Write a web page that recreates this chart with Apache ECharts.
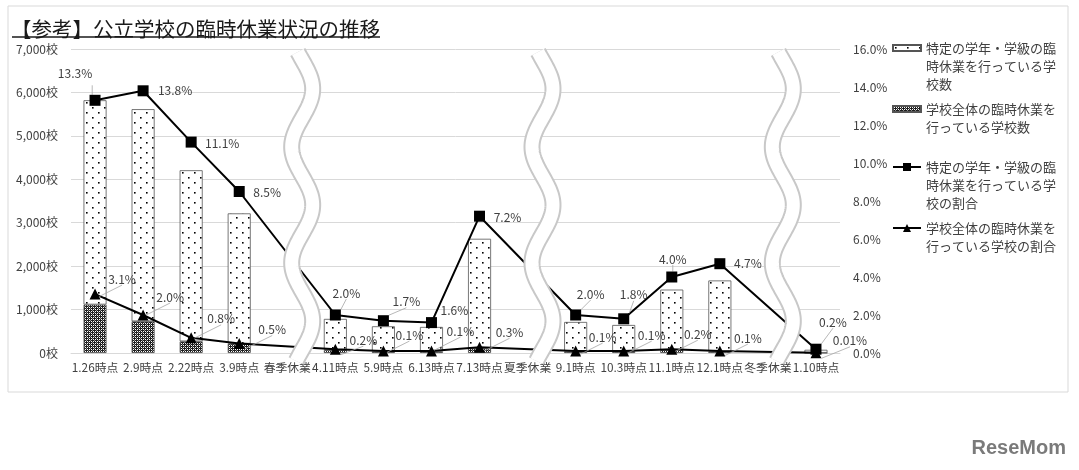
<!DOCTYPE html>
<html>
<head>
<meta charset="utf-8">
<script src="https://cdn.jsdelivr.net/npm/echarts@6/dist/echarts.min.js"></script>
<style>
html,body{margin:0;padding:0;background:#fff;}
#chart{width:1079px;height:470px;}
</style>
</head>
<body>
<div id="chart"></div>
<script>
// ---- data ----
const categories = ['1.26時点','2.9時点','2.22時点','3.9時点','春季休業','4.11時点','5.9時点','6.13時点','7.13時点','夏季休業','9.1時点','10.3時点','11.1時点','12.1時点','冬季休業','1.10時点'];
const breakCategories = ['春季休業','夏季休業','冬季休業'];
const specificCount = [4705, 4885, 3940, 3000, null, 715, 580, 565, 2525, null, 680, 610, 1390, 1635, null, 70];
const wholeCount    = [1115, 730, 268, 215, null, 70, 35, 35, 105, null, 35, 35, 70, 35, null, 4];
const specificPct   = [13.3, 13.8, 11.1, 8.5, null, 2.0, 1.7, 1.6, 7.2, null, 2.0, 1.8, 4.0, 4.7, null, 0.2];
const wholePct      = [3.1, 2.0, 0.8, 0.5, null, 0.2, 0.1, 0.1, 0.3, null, 0.1, 0.1, 0.2, 0.1, null, 0.01];
const leftAxisTicks = {min: 0, max: 7000, interval: 1000};
const rightAxisTicks = {min: 0, max: 16, interval: 2};

const nSpecific = '特定の学年・学級の臨時休業を行っている学校数';
const nWhole = '学校全体の臨時休業を行っている学校数';
const pSpecific = '特定の学年・学級の臨時休業を行っている学校の割合';
const pWhole = '学校全体の臨時休業を行っている学校の割合';

// ---- label offsets / leader lines (style) ----
const specificLabelOffset = [[-20,-27],[32,0],[31,1],[28,1],null,[11,-22],[23,-19],[23,-12],[28,1],null,[15,-21],[10,-24],[1,-18],[28,0],null,[17,-27]];
const specificLeader = [true,false,false,false,false,true,true,false,false,false,true,true,true,false,false,true];
const wholeLabelOffset = [[27,-15],[27,-18],[30,-19],[33,-14],null,[28,-9],[26,-16],[29,-20],[30,-15],null,[27,-14],[28,-16],[26,-15],[28,-13],null,[34,-12]];
const wholeLeader = [true,true,true,true,false,true,true,true,true,false,true,true,true,true,false,true];

const FONT = "'Noto Sans CJK JP','Noto Sans',sans-serif";
const TXT = '#404040';

function makeDotPattern(){
  const c = document.createElement('canvas'); c.width = 12; c.height = 10;
  const g = c.getContext('2d');
  g.fillStyle = '#fff'; g.fillRect(0,0,12,10);
  g.fillStyle = '#000';
  g.fillRect(2,2,1.6,1.6); g.fillRect(8,7,1.6,1.6);
  return c;
}
function makeHatchPattern(){
  const c = document.createElement('canvas'); c.width = 4; c.height = 4;
  const g = c.getContext('2d');
  g.fillStyle = '#1e1e1e'; g.fillRect(0,0,4,4);
  g.fillStyle = '#ffffff';
  g.fillRect(1,1,1,1); g.fillRect(3,3,1,1); g.fillRect(3,1,1,1); g.fillRect(1,3,1,1);
  g.fillStyle = '#8a8a8a';
  g.fillRect(0,2,1,1); g.fillRect(2,0,1,1);
  return c;
}
const dotColor = {image: makeDotPattern(), repeat: 'repeat'};
const hatchColor = {image: makeHatchPattern(), repeat: 'repeat'};

function fmtPct(v){ return (v < 0.05 ? v.toFixed(2) : v.toFixed(1)) + '%'; }
function lineData(vals, offs, leaders){
  return vals.map((v,i) => v == null ? '-' : {
    value: v, label: {offset: offs[i]}, labelLine: {show: leaders[i]}
  });
}
function wrapLegend(name){
  const out = [];
  for (let i = 0; i < name.length; i += 10) out.push(name.slice(i, i + 10));
  // blank lines first so the first text line sits level with the icon
  const blanks = new Array(out.length - 1).fill(' ');
  return blanks.concat(out).join('\n');
}
function legendFor(name, iconY, lines, opts){
  const lh = 18;
  const boxH = (2 * lines - 1) * lh;
  return Object.assign({
    data: [name], orient: 'vertical', left: 892, top: iconY - boxH / 2,
    padding: 0, itemWidth: 28, itemHeight: 6, selectedMode: false,
    formatter: wrapLegend,
    textStyle: {fontSize: 13, lineHeight: lh, color: TXT, fontFamily: FONT}
  }, opts || {});
}

const chart = echarts.init(document.getElementById('chart'), null, {renderer: 'canvas'});

const labelLineCfg = {show: false, smooth: false, length2: 0, lineStyle: {color: '#a6a6a6', width: 0.8}};

const option = {
  backgroundColor: '#fff',
  animation: false,
  textStyle: {fontFamily: FONT},
  title: {
    text: '【参考】公立学校の臨時休業状況の推移',
    left: 6, top: 14,
    textStyle: {fontSize: 20.5, fontWeight: 'normal', color: '#1a1a1a', fontFamily: FONT}
  },
  graphic: [
    {type: 'rect', shape: {x: 8, y: 6, width: 1060, height: 386}, style: {fill: null, stroke: '#d9d9d9', lineWidth: 1}, silent: true},
    {type: 'line', shape: {x1: 12, y1: 37, x2: 380, y2: 37}, style: {stroke: '#1a1a1a', lineWidth: 1.5}, silent: true},
    {type: 'text', right: 13, top: 438, style: {text: 'ReseMom', fontSize: 20, fontWeight: 'bold', fill: '#7a7a7a', fontFamily: "'Liberation Sans',sans-serif"}, silent: true}
  ],
  legend: [
    legendFor(nSpecific, 48, 3, {icon: 'rect'}),
    legendFor(nWhole, 109, 2, {icon: 'rect'}),
    legendFor(pSpecific, 167, 3, {itemHeight: 10}),
    legendFor(pWhole, 228, 2, {itemHeight: 10})
  ],
  grid: {left: 71, right: 239, top: 49, bottom: 117},
  xAxis: {
    type: 'category', data: categories,
    axisTick: {show: false},
    axisLine: {lineStyle: {color: '#d9d9d9'}},
    axisLabel: {interval: 0, fontSize: 11.8, color: TXT, margin: 9, fontFamily: FONT}
  },
  yAxis: [
    {
      type: 'value', min: leftAxisTicks.min, max: leftAxisTicks.max, interval: leftAxisTicks.interval,
      axisLine: {show: false}, axisTick: {show: false},
      splitLine: {lineStyle: {color: '#d9d9d9'}},
      axisLabel: {fontSize: 12, color: TXT, margin: 13, formatter: v => v.toLocaleString('en-US') + '校'}
    },
    {
      type: 'value', min: rightAxisTicks.min, max: rightAxisTicks.max, interval: rightAxisTicks.interval,
      axisLine: {show: false}, axisTick: {show: false}, splitLine: {show: false},
      axisLabel: {fontSize: 12, color: TXT, margin: 13, formatter: v => v.toFixed(1) + '%'}
    }
  ],
  series: [
    {
      name: nWhole, type: 'bar', stack: 'cnt', barWidth: 23, yAxisIndex: 0,
      data: wholeCount.map(v => v == null ? '-' : v),
      itemStyle: {color: hatchColor, borderColor: '#555', borderWidth: 0.8}
    },
    {
      name: nSpecific, type: 'bar', stack: 'cnt', barWidth: 23, yAxisIndex: 0,
      data: specificCount.map(v => v == null ? '-' : v),
      itemStyle: {color: dotColor, borderColor: '#555', borderWidth: 0.8}
    },
    {
      name: pSpecific, type: 'line', yAxisIndex: 1, connectNulls: true,
      symbol: 'rect', symbolSize: 11, z: 3,
      lineStyle: {color: '#000', width: 2}, itemStyle: {color: '#000'},
      data: lineData(specificPct, specificLabelOffset, specificLeader),
      labelLine: labelLineCfg,
      label: {show: true, position: 'inside', fontSize: 12, color: TXT, formatter: p => fmtPct(p.value)}
    },
    {
      name: pWhole, type: 'line', yAxisIndex: 1, connectNulls: true,
      symbol: 'triangle', symbolSize: 11, z: 3,
      lineStyle: {color: '#000', width: 2}, itemStyle: {color: '#000'},
      data: lineData(wholePct, wholeLabelOffset, wholeLeader),
      labelLine: labelLineCfg,
      label: {show: true, position: 'inside', fontSize: 12, color: TXT, formatter: p => fmtPct(p.value)}
    },
    {
      name: 'breaks', type: 'custom', z: 8, clip: false, silent: true,
      data: breakCategories.map(c => [categories.indexOf(c), 0]),
      encode: {x: 0, y: 1},
      renderItem: function(params, api){
        const cs = params.coordSys;
        const bw = api.size([1, 0])[0];
        const cx = api.coord([api.value(0), 0])[0] + 0.31 * bw;
        const top = cs.y + 3, bottom = cs.y + cs.height + 8;
        const A = 10.5, P = 116, phi = -0.43;
        const pts = [];
        for (let y = top; y <= bottom; y += 1.5) {
          pts.push([cx + A * Math.sin(2 * Math.PI * (y - top) / P + phi), y]);
        }
        return {type: 'group', children: [
          {type: 'polyline', shape: {points: pts}, style: {stroke: '#c8c8c8', lineWidth: 17, fill: null}},
          {type: 'polyline', shape: {points: pts}, style: {stroke: '#ffffff', lineWidth: 13, fill: null}}
        ]};
      }
    }
  ]
};
chart.setOption(option);
</script>
</body>
</html>
